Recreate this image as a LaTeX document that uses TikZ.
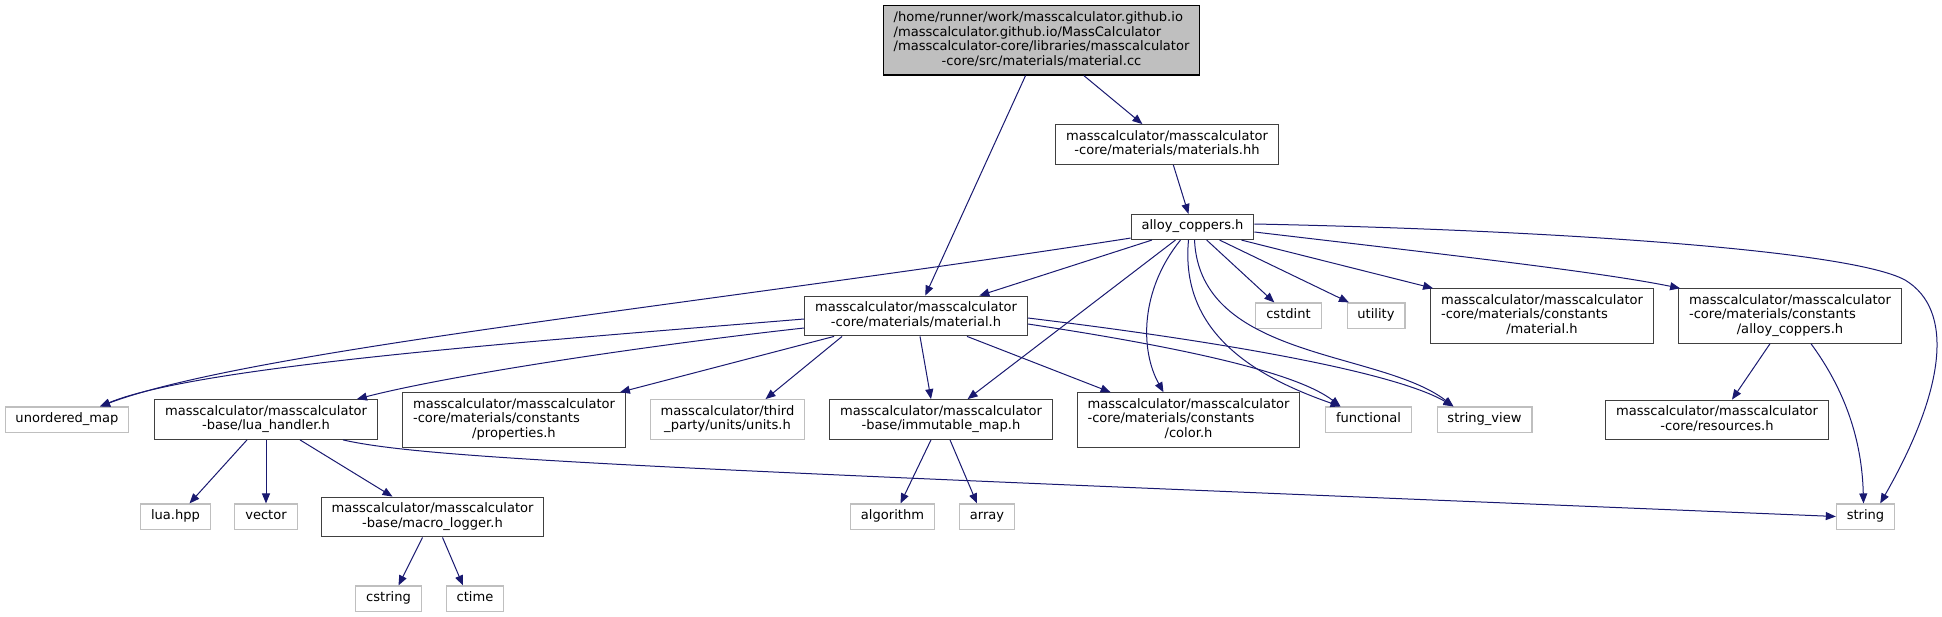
\documentclass[tikz,border=0pt]{standalone}
\usepackage{fontspec}
\setmainfont{DejaVu Sans}
\usetikzlibrary{arrows.meta,calc}
\definecolor{edgeblue}{HTML}{191970}
\definecolor{grey25}{HTML}{404040}
\definecolor{grey75}{HTML}{BFBFBF}
\newcommand{\fl}[1]{\begin{tabular}{@{}c@{}}#1\end{tabular}}
\newcommand{\lrow}[1]{\multicolumn{1}{@{}l@{}}{#1}}
\tikzset{
  filebox/.style={rectangle, inner xsep=7.8pt, inner ysep=3.9pt,
    font=\fontsize{9.8}{11}\selectfont, line width=0.8pt},
  incnode/.style={filebox, draw=grey25, fill=white},
  extnode/.style={filebox, draw=grey75, fill=white},
  rootnode/.style={filebox, draw=black, fill=grey75},
  dep/.style={draw=edgeblue, line width=0.75pt,
    -{Triangle[length=7.5pt,width=6pt]}}
}

\begin{document}
\begin{tikzpicture}[x=0.75pt, y=-0.75pt]
	\useasboundingbox (0,0) rectangle (1942,617);
	
	% top of the graph
	\node[rootnode] (root) at (1041.5,40.5) {\fl{\lrow{/home/runner/work/masscalculator.github.io}\\
		\lrow{/masscalculator.github.io/MassCalculator}\\
		/masscalculator-core/libraries/masscalculator\\
		-core/src/materials/material.cc}};
	\node[incnode] (matsHH) at (1167,144.5) {\fl{masscalculator/masscalculator\\-core/materials/materials.hh}};
	\node[incnode] (alloy) at (1192.5,227) {\fl{alloy\_coppers.h}};
	
	% rank 3
	\node[incnode] (matH) at (916,316) {\fl{masscalculator/masscalculator\\-core/materials/material.h}};
	\node[extnode] (cstdint) at (1288.5,315.5) {\fl{cstdint}};
	\node[extnode] (utility) at (1376,315.5) {\fl{utility}};
	\node[incnode] (cMat) at (1542,316) {\fl{masscalculator/masscalculator\\
		\lrow{-core/materials/constants}\\/material.h}};
	\node[incnode] (cAlloy) at (1790,316) {\fl{masscalculator/masscalculator\\
		\lrow{-core/materials/constants}\\/alloy\_coppers.h}};
	
	% rank 4
	\node[extnode] (umap) at (67,419.5) {\fl{unordered\_map}};
	\node[incnode] (luaH) at (266,419.5) {\fl{masscalculator/masscalculator\\-base/lua\_handler.h}};
	\node[incnode] (props) at (514,420) {\fl{masscalculator/masscalculator\\
		\lrow{-core/materials/constants}\\/properties.h}};
	\node[extnode] (units) at (727.5,419.5) {\fl{masscalculator/third\\\_party/units/units.h}};
	\node[incnode] (immut) at (941,419.5) {\fl{masscalculator/masscalculator\\-base/immutable\_map.h}};
	\node[incnode] (color) at (1188.5,420) {\fl{masscalculator/masscalculator\\
		\lrow{-core/materials/constants}\\/color.h}};
	\node[extnode] (functional) at (1368.5,419.5) {\fl{functional}};
	\node[extnode] (strview) at (1484.5,419.5) {\fl{string\_view}};
	\node[incnode] (resources) at (1717,420) {\fl{masscalculator/masscalculator\\-core/resources.h}};
	
	% rank 5 and 6
	\node[extnode] (luahpp) at (175.5,516.5) {\fl{lua.hpp}};
	\node[extnode] (vector) at (266,516.5) {\fl{vector}};
	\node[incnode] (mlog) at (432.5,517) {\fl{masscalculator/masscalculator\\-base/macro\_logger.h}};
	\node[extnode] (algorithm) at (892.5,516.5) {\fl{algorithm}};
	\node[extnode] (array) at (987,516.5) {\fl{array}};
	\node[extnode] (string) at (1865.5,516.5) {\fl{string}};
	\node[extnode] (cstring) at (388.5,598.5) {\fl{cstring}};
	\node[extnode] (ctime) at (475,598.5) {\fl{ctime}};
	
	% material.cc
	\draw[dep] (root) -- (matsHH);
	\draw[dep] (root) -- (matH);
	\draw[dep] (matsHH) -- (alloy);
	
	% alloy_coppers.h
	\draw[dep] ($(alloy.south west)+(0,-2)$) .. controls (700,305) and (250,350) .. ($(umap.north)+(33,0)$);
	\draw[dep] (alloy) -- (matH);
	\draw[dep] (alloy) -- (immut);
	\draw[dep] ($(alloy.south)+(-12,0)$) .. controls (1140,290) and (1140,350) .. ($(color.north)+(-25,0)$);
	\draw[dep] ($(alloy.south)+(-4,0)$) .. controls (1180,330) and (1250,375) .. ($(functional.north)+(-28,0)$);
	\draw[dep] ($(alloy.south)+(2,0)$) .. controls (1200,360) and (1380,350) .. ($(strview.north)+(-31,0)$);
	\draw[dep] (alloy) -- (cstdint);
	\draw[dep] (alloy) -- (utility);
	\draw[dep] ($(alloy.south east)+(-13,0)$) -- ($(cMat.north west)+(3,0)$);
	\draw[dep] ($(alloy.east)+(0,5)$) .. controls (1450,255) and (1600,272) .. ($(cAlloy.north west)+(2,0)$);
	\draw[dep] ($(alloy.east)+(0,-3)$) .. controls (1550,230) and (1850,250) .. (1905,280)
		.. controls (1955,310) and (1945,390) .. ($(string.north east)+(-15,0)$);
	
	% material.h
	\draw[dep] ($(matH.west)+(0,3)$) .. controls (550,340) and (200,365) .. ($(umap.north)+(33,0)$);
	\draw[dep] ($(matH.west)+(0,12)$) .. controls (650,345) and (450,375) .. ($(luaH.north east)+(-21,0)$);
	\draw[dep] ($(matH.south west)+(30,0)$) -- ($(props.north east)+(-6,0)$);
	\draw[dep] ($(matH.south west)+(38,0)$) -- ($(units.north)+(38,0)$);
	\draw[dep] ($(matH.south)+(4,0)$) -- ($(immut.north)+(-10,0)$);
	\draw[dep] ($(matH.south)+(51,0)$) -- ($(color.north west)+(34,0)$);
	\draw[dep] ($(matH.east)+(0,8)$) .. controls (1200,350) and (1300,375) .. ($(functional.north)+(-28,0)$);
	\draw[dep] ($(matH.east)+(0,2)$) .. controls (1250,345) and (1400,375) .. ($(strview.north)+(-31,0)$);
	
	% lua_handler.h
	\draw[dep] ($(luaH.south)+(-19,0)$) -- ($(luahpp.north)+(14,0)$);
	\draw[dep] (luaH.south) -- (vector.north);
	\draw[dep] ($(luaH.south)+(34,0)$) -- ($(mlog.north)+(-40,0)$);
	\draw[dep] ($(luaH.south)+(77,0)$) .. controls (430,460) and (700,470) .. (string.west);
	
	% the rest
	\draw[dep] ($(mlog.south)+(-10,0)$) -- ($(cstring.north)+(10,0)$);
	\draw[dep] ($(mlog.south)+(10,0)$) -- ($(ctime.north)+(-12,0)$);
	\draw[dep] ($(immut.south)+(-10,0)$) -- ($(algorithm.north)+(8,0)$);
	\draw[dep] ($(immut.south)+(9,0)$) -- ($(array.north)+(-10,0)$);
	\draw[dep] ($(cAlloy.south)+(-20,0)$) -- ($(resources.north)+(15,0)$);
	\draw[dep] ($(cAlloy.south)+(21,0)$) .. controls (1845,390) and (1862,440) .. ($(string.north)+(-2,0)$);
	
\end{tikzpicture}
\end{document}
